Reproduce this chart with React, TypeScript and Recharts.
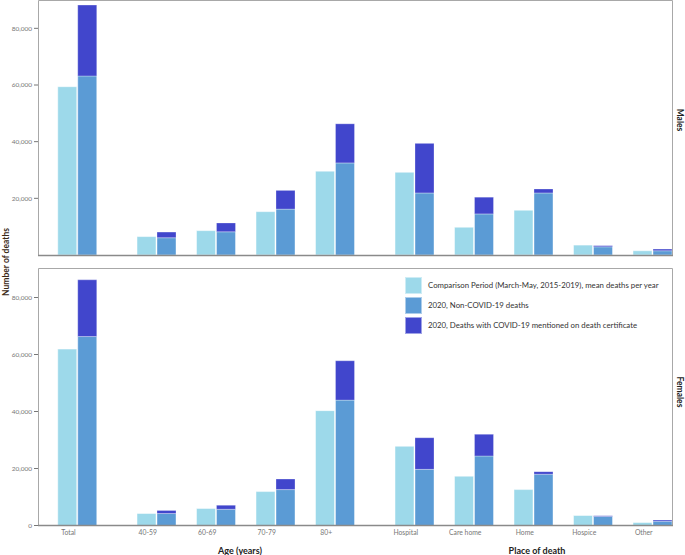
import React from 'react';
import { BarChart, Bar, XAxis, YAxis } from 'recharts';

// categories (Total, then age bands, then place of death)
const totalLabel = ['Total'];
const ageGroups = ['40-59', '60-69', '70-79', '80+'];
const places = ['Hospital', 'Care home', 'Home', 'Hospice', 'Other'];

const seriesNames = [
  'Comparison Period (March-May, 2015-2019), mean deaths per year',
  '2020, Non-COVID-19 deaths',
  '2020, Deaths with COVID-19 mentioned on death certificate',
];
const seriesColors = ['#9dd9ea', '#5b9bd5', '#4146cc'];

// values in the order Total, 40-59 .. 80+, Hospital .. Other
const maleComparison = [59400, 6500, 8600, 15300, 29600, 29200, 9800, 15800, 3500, 1500];
const maleNonCovid = [63200, 6100, 8200, 16200, 32500, 21900, 14500, 21900, 2900, 1500];
const maleCovid = [25000, 2000, 3100, 6600, 13800, 17500, 5900, 1400, 400, 600];

const femaleComparison = [61900, 4200, 6000, 11900, 40300, 27800, 17300, 12600, 3500, 1050];
const femaleNonCovid = [66300, 4200, 5700, 12600, 44000, 19700, 24400, 18000, 3200, 1500];
const femaleCovid = [19900, 1100, 1400, 3700, 13800, 11100, 7600, 900, 200, 400];

const yTicks = [0, 20000, 40000, 60000, 80000];

const FONT = 'Lato, "Noto Sans", sans-serif';

type Row = { name: string; comparison: number; nonCovid: number; covid: number };

function buildRows(names: string[], start: number, comp: number[], non: number[], cov: number[]): Row[] {
  return names.map((name, i) => ({
    name,
    comparison: comp[start + i],
    nonCovid: non[start + i],
    covid: cov[start + i],
  }));
}

interface GroupChartProps {
  rows: Row[];
  left: number;
  width: number;
  top: number;
  plotHeight: number;
  withY?: boolean;
  showTicks?: boolean;
}

const GroupChart: React.FC<GroupChartProps> = ({ rows, left, width, top, plotHeight, withY, showTicks }) => {
  const axisH = showTicks ? 24 : 0;
  return (
    <div style={{ position: 'absolute', left, top }}>
      <BarChart
        width={width}
        height={plotHeight + axisH}
        data={rows}
        margin={{ top: 0, right: withY ? 10 : 0, bottom: 0, left: 0 }}
        barSize={19}
        barGap={1}
      >
        <XAxis
          dataKey="name"
          hide={!showTicks}
          height={axisH}
          axisLine={false}
          tickLine={false}
          tickSize={0}
          tickMargin={5}
          interval={0}
          padding={withY ? { left: 9.75, right: 0 } : { left: 0, right: 0 }}
          tick={{ fontSize: 6.8, fill: '#777', fontFamily: FONT, dx: -9 }}
        />
        <YAxis
          hide={!withY}
          width={38}
          domain={[0, 90000]}
          ticks={yTicks}
          allowDataOverflow
          axisLine={false}
          tickSize={4}
          tickMargin={2}
          tickLine={{ stroke: '#777' }}
          tickFormatter={(v: number) => v.toLocaleString('en-US')}
          tick={{ fontSize: 6.5, fill: '#777', fontFamily: FONT }}
        />
        <Bar dataKey="comparison" stackId="base" fill={seriesColors[0]} stroke="rgba(255,255,255,0.6)" strokeWidth={0.8} isAnimationActive={false} />
        <Bar dataKey="nonCovid" stackId="y2020" fill={seriesColors[1]} stroke="rgba(255,255,255,0.5)" strokeWidth={0.8} isAnimationActive={false} />
        <Bar dataKey="covid" stackId="y2020" fill={seriesColors[2]} stroke="rgba(255,255,255,0.35)" strokeWidth={0.8} isAnimationActive={false} />
      </BarChart>
    </div>
  );
};

interface PanelProps {
  comp: number[];
  non: number[];
  cov: number[];
  top: number;
  plotHeight: number;
  showTicks?: boolean;
}

const Panel: React.FC<PanelProps> = ({ comp, non, cov, top, plotHeight, showTicks }) => (
  <>
    <GroupChart rows={buildRows(totalLabel, 0, comp, non, cov)} left={0} width={117.25} top={top} plotHeight={plotHeight} withY showTicks={showTicks} />
    <GroupChart rows={buildRows(ageGroups, 1, comp, non, cov)} left={127.25} width={238} top={top} plotHeight={plotHeight} showTicks={showTicks} />
    <GroupChart rows={buildRows(places, 5, comp, non, cov)} left={385.25} width={297.5} top={top} plotHeight={plotHeight} showTicks={showTicks} />
  </>
);

export default function App() {
  const frame = '#a8a8a8';
  const base = '#8a8a8a';
  const labelStyle = { fontFamily: FONT, fontWeight: 700 } as const;
  return (
    <div style={{ position: 'absolute', left: 0, top: 0, width: 685, height: 555, background: '#fff', overflow: 'hidden', fontFamily: FONT }}>
      <Panel comp={maleComparison} non={maleNonCovid} cov={maleCovid} top={0} plotHeight={255} />
      <Panel comp={femaleComparison} non={femaleNonCovid} cov={femaleCovid} top={268.5} plotHeight={256.5} showTicks />

      <svg width={685} height={555} style={{ position: 'absolute', left: 0, top: 0, pointerEvents: 'none' }}>
        {/* Males frame */}
        <polyline points="38.5,255 38.5,0.5 672.5,0.5 672.5,255" fill="none" stroke={frame} strokeWidth={1} />
        <line x1={38} x2={673} y1={255.5} y2={255.5} stroke={base} strokeWidth={1.5} />
        {/* Females frame */}
        <polyline points="38.5,525 38.5,268.5 672.5,268.5 672.5,525" fill="none" stroke={frame} strokeWidth={1} />
        <line x1={38} x2={673} y1={525.5} y2={525.5} stroke={base} strokeWidth={1.5} />

        <text x={9} y={262} transform="rotate(-90 9 262)" textAnchor="middle" fontSize={8.5} fill="#3b2a17" style={labelStyle}>
          Number of deaths
        </text>
        <text x={677} y={120} transform="rotate(90 677 120)" textAnchor="middle" fontSize={8.5} fill="#222" style={labelStyle}>
          Males
        </text>
        <text x={677} y={392} transform="rotate(90 677 392)" textAnchor="middle" fontSize={8.5} fill="#222" style={labelStyle}>
          Females
        </text>
        <text x={240} y={554} textAnchor="middle" fontSize={9} fill="#222" style={labelStyle}>
          Age (years)
        </text>
        <text x={537} y={554} textAnchor="middle" fontSize={9} fill="#222" style={labelStyle}>
          Place of death
        </text>
      </svg>

      <div style={{ position: 'absolute', left: 405, top: 275 }}>
        {seriesNames.map((n, i) => (
          <div key={n} style={{ display: 'flex', alignItems: 'center', height: 20 }}>
            <div style={{ width: 17, height: 17, background: seriesColors[i], boxShadow: 'inset 0 0 0 1px rgba(255,255,255,0.5)' }} />
            <span style={{ marginLeft: 6, fontSize: 7.8, color: '#333', whiteSpace: 'nowrap' }}>{n}</span>
          </div>
        ))}
      </div>
    </div>
  );
}
